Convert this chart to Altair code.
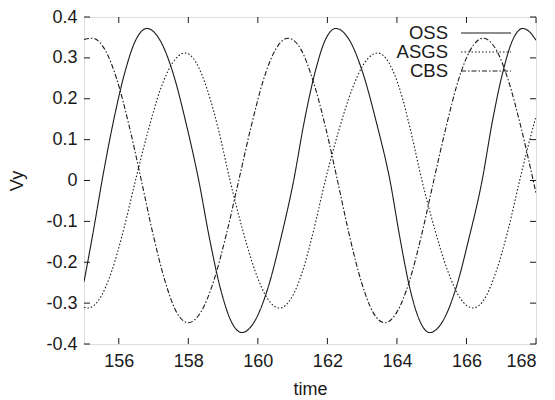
import altair as alt
import pandas as pd

# Vy time series for the three schemes
oss_t = [155.00, 155.26, 155.52, 155.84, 156.17, 156.49, 156.81,
         157.18, 157.56, 157.93, 158.30, 158.61, 158.92, 159.23, 159.54,
         159.91, 160.29, 160.66, 161.03, 161.33, 161.64, 161.94, 162.24,
         162.63, 163.02, 163.41, 163.80, 164.09, 164.37, 164.66, 164.94,
         165.32, 165.70, 166.07, 166.45, 166.74, 167.04, 167.33, 167.62,
         167.81, 168.00]
oss_v = [-0.248, -0.128, 0.000, 0.142, 0.263, 0.344, 0.372,
         0.344, 0.263, 0.142, 0.000, -0.142, -0.263, -0.344, -0.372,
         -0.344, -0.263, -0.142, 0.000, 0.142, 0.263, 0.344, 0.372,
         0.344, 0.263, 0.142, 0.000, -0.142, -0.263, -0.344, -0.372,
         -0.344, -0.263, -0.142, 0.000, 0.142, 0.263, 0.344, 0.372,
         0.364, 0.343]

asgs_t = [155.00, 155.12, 155.46, 155.80, 156.14, 156.48,
          156.84, 157.19, 157.55, 157.90, 158.23, 158.55, 158.88, 159.20,
          159.56, 159.92, 160.27, 160.63, 160.96, 161.29, 161.61, 161.94,
          162.32, 162.70, 163.07, 163.45, 163.77, 164.09, 164.40, 164.72,
          165.09, 165.46, 165.82, 166.19, 166.53, 166.86, 167.20, 167.53,
          167.77, 168.00]
asgs_v = [-0.310, -0.312, -0.288, -0.221, -0.120, 0.000,
          0.120, 0.221, 0.288, 0.312, 0.288, 0.221, 0.120, 0.000,
          -0.120, -0.221, -0.288, -0.312, -0.288, -0.221, -0.120, 0.000,
          0.120, 0.221, 0.288, 0.312, 0.288, 0.221, 0.120, 0.000,
          -0.120, -0.221, -0.288, -0.312, -0.288, -0.221, -0.120, 0.000,
          0.083, 0.157]

cbs_t = [155.00, 155.24, 155.59, 155.95, 156.30, 156.65,
         156.99, 157.33, 157.66, 158.00, 158.36, 158.73, 159.09, 159.45,
         159.81, 160.16, 160.52, 160.87, 161.23, 161.58, 161.94, 162.29,
         162.63, 162.97, 163.31, 163.65, 164.00, 164.36, 164.71, 165.06,
         165.42, 165.77, 166.13, 166.48, 166.84, 167.20, 167.56, 167.92,
         168.00]
cbs_v = [0.345, 0.348, 0.322, 0.246, 0.133, 0.000,
         -0.133, -0.246, -0.322, -0.348, -0.322, -0.246, -0.133, 0.000,
         0.133, 0.246, 0.322, 0.348, 0.322, 0.246, 0.133, 0.000,
         -0.133, -0.246, -0.322, -0.348, -0.322, -0.246, -0.133, 0.000,
         0.133, 0.246, 0.322, 0.348, 0.322, 0.246, 0.133, 0.000,
         -0.031]

series_names = ["OSS", "ASGS", "CBS"]
series_dash = [[1, 0], [1.5, 2], [5, 2, 1.5, 2]]
x_ticks = [156, 158, 160, 162, 164, 166, 168]
y_ticks = [-0.4, -0.3, -0.2, -0.1, 0, 0.1, 0.2, 0.3, 0.4]

W, H = 452, 327
FONT = "Liberation Sans"
INK = "#1a1a1a"

frames = []
for name, ts, vs in [("OSS", oss_t, oss_v), ("ASGS", asgs_t, asgs_v), ("CBS", cbs_t, cbs_v)]:
    frames.append(pd.DataFrame({"time": ts, "Vy": vs, "series": name}))
df = pd.concat(frames, ignore_index=True)

xs = alt.Scale(domain=[155, 168], nice=False, zero=False)
ys = alt.Scale(domain=[-0.4, 0.4], nice=False, zero=False)

curves = alt.Chart(df).mark_line(
    interpolate="monotone", strokeWidth=1.1, color=INK, clip=True
).encode(
    x=alt.X("time:Q", scale=xs, axis=alt.Axis(
        values=x_ticks, format="d", ticks=False, domain=False, grid=False,
        labelFontSize=18, labelPadding=8, labelColor=INK,
        title="time", titleFontSize=18, titleFontWeight="normal",
        titleColor=INK, titlePadding=10)),
    y=alt.Y("Vy:Q", scale=ys, axis=alt.Axis(
        values=y_ticks, labelExpr="'' + datum.value", ticks=False,
        domain=False, grid=False, labelFontSize=18, labelPadding=7,
        labelColor=INK, title="Vy", titleFontSize=18,
        titleFontWeight="normal", titleColor=INK, titlePadding=19)),
    strokeDash=alt.StrokeDash("series:N", scale=alt.Scale(
        domain=series_names, range=series_dash), legend=None),
)

# inward tick marks on all four sides of the frame
xt = pd.DataFrame({"time": x_ticks})
yt = pd.DataFrame({"Vy": y_ticks})
tick_len = 6
bottom_ticks = alt.Chart(xt).mark_rule(color=INK, strokeWidth=1).encode(
    x=alt.X("time:Q", scale=xs), y=alt.value(H), y2=alt.value(H - tick_len))
top_ticks = alt.Chart(xt).mark_rule(color=INK, strokeWidth=1).encode(
    x=alt.X("time:Q", scale=xs), y=alt.value(0), y2=alt.value(tick_len))
left_ticks = alt.Chart(yt).mark_rule(color=INK, strokeWidth=1).encode(
    y=alt.Y("Vy:Q", scale=ys), x=alt.value(0), x2=alt.value(tick_len))
right_ticks = alt.Chart(yt).mark_rule(color=INK, strokeWidth=1).encode(
    y=alt.Y("Vy:Q", scale=ys), x=alt.value(W), x2=alt.value(W - tick_len))

# key in the top-right corner: label, then a line sample
key_layers = []
for i, (name, dash) in enumerate(zip(series_names, series_dash)):
    ypos = 16 + 19 * i
    key_layers.append(
        alt.Chart(pd.DataFrame({"series": [name]})).mark_text(
            align="right", baseline="middle", fontSize=18.5, font=FONT, color=INK
        ).encode(text="series:N", x=alt.value(364), y=alt.value(ypos))
    )
    key_layers.append(
        alt.Chart(pd.DataFrame({"series": [name]})).mark_rule(
            color=INK, strokeWidth=1.1, strokeDash=dash
        ).encode(x=alt.value(377), x2=alt.value(427), y=alt.value(ypos))
    )

chart = alt.layer(
    curves, bottom_ticks, top_ticks, left_ticks, right_ticks, *key_layers
).properties(
    width=W, height=H,
    autosize=alt.AutoSizeParams(type="none"),
    padding={"left": 84, "top": 17, "right": 19, "bottom": 56},
    background="white",
).configure_view(
    stroke=INK, strokeWidth=1.5
).configure(
    font=FONT
)

chart.save("out.html", embed_options={"renderer": "svg", "actions": False})
